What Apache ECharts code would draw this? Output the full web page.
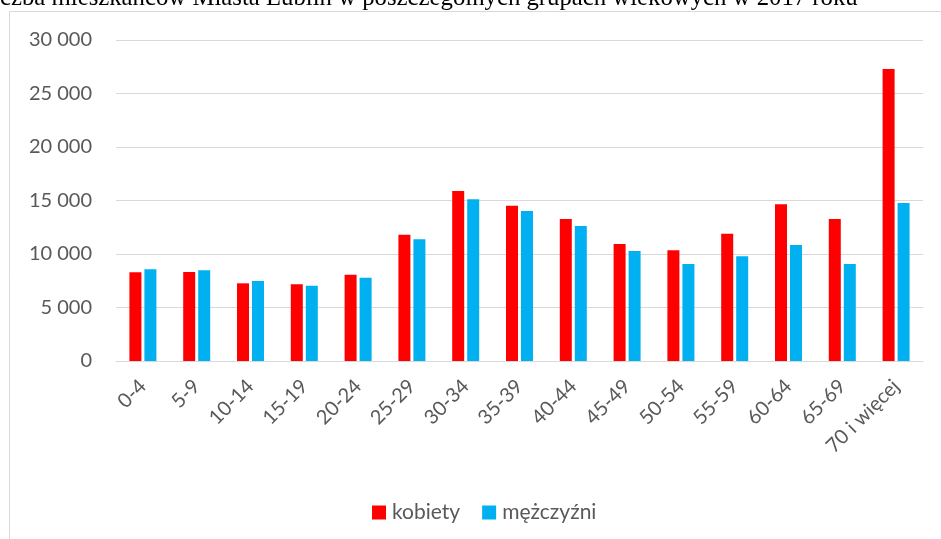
<!DOCTYPE html>
<html>
<head>
<meta charset="utf-8">
<script src="https://cdn.jsdelivr.net/npm/echarts@6/dist/echarts.min.js"></script>
<style>
html,body{margin:0;padding:0;background:#fff;}
#chart{width:941px;height:539px;}
</style>
</head>
<body>
<div id="chart"></div>
<script>
const categories = ['0-4','5-9','10-14','15-19','20-24','25-29','30-34','35-39','40-44','45-49','50-54','55-59','60-64','65-69','70 i więcej'];
const kobiety = [8290, 8320, 7260, 7170, 8070, 11800, 15890, 14520, 13270, 10940, 10340, 11900, 14640, 13270, 27290];
const mezczyzni = [8570, 8480, 7480, 7040, 7790, 11370, 15110, 14020, 12620, 10280, 9070, 9780, 10840, 9070, 14770];
const seriesNames = ['kobiety', 'mężczyźni'];
const titleText = 'Liczba mieszkańców Miasta Lublin w poszczególnych grupach wiekowych w 2017 roku';

const chart = echarts.init(document.getElementById('chart'), null, {renderer: 'canvas'});
const labelColor = '#595959';
const font = 'Lato';
chart.setOption({
  animation: false,
  backgroundColor: '#ffffff',
  graphic: [
    {type: 'rect', shape: {x: 9.5, y: 11.5, width: 1000, height: 600}, style: {fill: 'none', stroke: '#d9d9d9', lineWidth: 1}, silent: true, z: -1},
    {type: 'text', x: -22, y: -2, style: {text: titleText, font: '24.75px "Liberation Serif"', fill: '#000', verticalAlign: 'middle', align: 'left'}, silent: true}
  ],
  grid: {left: 116, right: 18, top: 40, bottom: 178, containLabel: false},
  legend: {
    data: seriesNames,
    left: 367, top: 497,
    itemWidth: 14, itemHeight: 14, itemGap: 22,
    icon: 'rect',
    textStyle: {color: labelColor, fontFamily: font, fontSize: 21, padding: [0,0,0,1]}
  },
  xAxis: {
    type: 'category',
    data: categories,
    axisLine: {show: true, lineStyle: {color: '#d9d9d9', width: 1}},
    axisTick: {show: false},
    axisLabel: {interval: 0, rotate: 45, margin: 22, color: labelColor, fontFamily: font, fontSize: 20}
  },
  yAxis: {
    type: 'value',
    min: 0, max: 30000, interval: 5000,
    axisLine: {show: false},
    axisTick: {show: false},
    splitLine: {lineStyle: {color: '#d9d9d9', width: 1}},
    axisLabel: {
      margin: 24, color: labelColor, fontFamily: font, fontSize: 20,
      formatter: v => String(v).replace(/\B(?=(\d{3})+(?!\d))/g, ' ')
    }
  },
  series: [
    {name: seriesNames[0], type: 'bar', data: kobiety, barWidth: 12, barGap: '25%', itemStyle: {color: '#FF0000'}},
    {name: seriesNames[1], type: 'bar', data: mezczyzni, barWidth: 12, barGap: '25%', itemStyle: {color: '#00B0F0'}}
  ]
});
</script>
</body>
</html>
